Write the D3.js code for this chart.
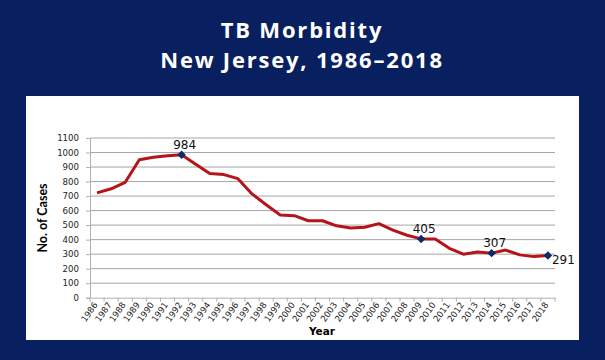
<!DOCTYPE html>
<html><head><meta charset="utf-8">
<script src="https://cdn.jsdelivr.net/npm/d3@7"></script>
<style>html,body{margin:0;padding:0;background:#082060;}svg{display:block;}</style>
</head><body>
<svg id="c" width="605" height="360"></svg>
<script>
const years = ["1986","1987","1988","1989","1990","1991","1992","1993","1994","1995","1996","1997","1998","1999","2000","2001","2002","2003","2004","2005","2006","2007","2008","2009","2010","2011","2012","2013","2014","2015","2016","2017","2018"];
const cases = [722,750,795,950,968,978,984,920,855,848,820,715,640,570,565,530,530,495,480,485,510,465,430,405,405,340,300,315,307,328,295,283,291];
const labelled = ["1992","2009","2014","2018"];
const yTicks = [0,100,200,300,400,500,600,700,800,900,1000,1100];
const titleLines = ["TB Morbidity","New Jersey, 1986\u20132018"];

const svg = d3.select("#c");
svg.append("rect").attr("width",605).attr("height",360).attr("fill","#082060");
svg.append("rect").attr("x",26).attr("y",96).attr("width",553).attr("height",244).attr("fill","#ffffff");

svg.selectAll("text.title").data(titleLines).join("text")
  .attr("class","title").attr("x",302).attr("y",(d,i)=>37.5+i*30)
  .attr("text-anchor","middle").attr("fill","#ffffff")
  .attr("font-family","'Open Sans', sans-serif").attr("font-weight","bold").attr("font-size",22)
  .attr("letter-spacing",1.8)
  .text(d=>d);

const m = {left:90, right:555, top:138, bottom:297.7};
const x = d3.scaleBand().domain(years).range([m.left,m.right]);
const y = d3.scaleLinear().domain([0,1100]).range([m.bottom,m.top]);

// gridlines
svg.append("g").selectAll("line").data(yTicks.filter(d=>d>0)).join("line")
  .attr("x1",m.left).attr("x2",m.right).attr("y1",d=>y(d)).attr("y2",d=>y(d))
  .attr("stroke","#a6a6a6").attr("stroke-width",1);

// y axis
const ya = svg.append("g").attr("transform",`translate(${m.left},0)`)
  .call(d3.axisLeft(y).tickValues(yTicks).tickFormat(d3.format("d")).tickSize(4).tickPadding(7));
ya.select(".domain").attr("stroke","#b0b0b0");
ya.selectAll(".tick line").attr("stroke","#b0b0b0");
ya.selectAll("text").attr("font-family","'DejaVu Sans', Verdana, sans-serif").attr("font-size",8.6).attr("fill","#222");

// x axis
const xa = svg.append("g").attr("transform",`translate(0,${m.bottom})`)
  .call(d3.axisBottom(x).tickSize(0).tickPadding(0));
xa.select(".domain").attr("stroke","#b0b0b0");
xa.selectAll(".tick text")
  .attr("font-family","'DejaVu Sans', Verdana, sans-serif").attr("font-size",8.6).attr("fill","#222")
  .attr("text-anchor","end").attr("dy",0)
  .attr("transform","translate(1,7) rotate(-55)");
// small tick marks between categories
svg.append("g").selectAll("line").data(years.concat(["end"])).join("line")
  .attr("x1",(d,i)=>m.left+i*x.step()).attr("x2",(d,i)=>m.left+i*x.step())
  .attr("y1",m.bottom).attr("y2",m.bottom+4).attr("stroke","#b0b0b0");

// axis titles
svg.append("text").attr("transform","translate(47,218) rotate(-90)")
  .attr("text-anchor","middle").attr("font-family","Lato, sans-serif").attr("font-weight","bold")
  .attr("font-size",12.5).attr("fill","#000").text("No. of Cases");
svg.append("text").attr("x",322).attr("y",335).attr("text-anchor","middle")
  .attr("font-family","'DejaVu Sans', Verdana, sans-serif").attr("font-weight","bold")
  .attr("font-size",10.5).attr("fill","#000").text("Year");

// line
const cx = d=>x(d)+x.bandwidth()/2;
const data = years.map((yr,i)=>({yr,v:cases[i]}));
svg.append("path").datum(data)
  .attr("fill","none").attr("stroke","#b4141a").attr("stroke-width",3).attr("stroke-linejoin","round")
  .attr("d",d3.line().x(d=>cx(d.yr)).y(d=>y(d.v)));

// markers (diamonds = rotated squares)
const pts = data.filter(d=>labelled.includes(d.yr));
svg.append("g").selectAll("rect").data(pts).join("rect")
  .attr("x",-3).attr("y",-3).attr("width",6).attr("height",6)
  .attr("transform",d=>`translate(${cx(d.yr)},${y(d.v)}) rotate(45)`)
  .attr("fill","#0a2a6a");
svg.append("g").selectAll("text").data(pts).join("text")
  .attr("x",d=>d.yr==="2018"?cx(d.yr)+4:cx(d.yr)+3)
  .attr("y",d=>d.yr==="2018"?y(d.v)+9:y(d.v)-6)
  .attr("text-anchor",d=>d.yr==="2018"?"start":"middle")
  .attr("font-family","'DejaVu Sans', Verdana, sans-serif").attr("font-size",12).attr("fill","#111")
  .text(d=>d.v);
</script>
</body></html>
